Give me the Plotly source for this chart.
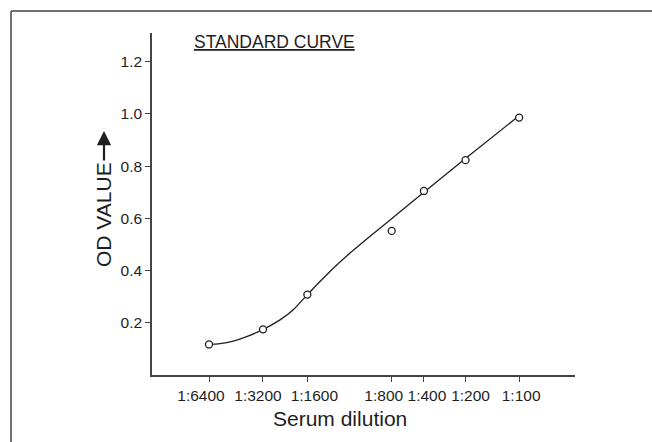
import plotly.graph_objects as go

# Data
dilution_labels = ["1:6400", "1:3200", "1:1600", "1:800", "1:400", "1:200", "1:100"]
dilution_pos = [1.0, 1.947, 2.725, 4.205, 4.77, 5.50, 6.44]
od_measured = [0.117, 0.175, 0.308, 0.552, 0.705, 0.823, 0.986]
# fitted standard curve
curve_x = [0.988, 1.193, 1.426, 1.661, 1.953, 2.246, 2.479, 2.714, 2.947, 3.181,
           3.474, 3.767, 4.058, 4.351, 4.77, 5.46, 6.40]
curve_y = [0.117, 0.120, 0.130, 0.147, 0.175, 0.211, 0.250, 0.305, 0.358, 0.409,
           0.467, 0.521, 0.573, 0.625, 0.700, 0.823, 0.986]
y_ticks = [0.2, 0.4, 0.6, 0.8, 1.0, 1.2]
y_tick_labels = ["0.2", "0.4", "0.6", "0.8", "1.0", "1.2"]

W, H = 652, 442
L, R, T, B = 152, 77, 33, 67
pw, ph = W - L - R, H - T - B
X_RANGE = [0, 7.42]
px_per_unit = pw / (X_RANGE[1] - X_RANGE[0])

# horizontal pixel shifts of the dilution labels relative to their ticks
label_shift_px = [-8, -5, 7, -8, 3, 5, 2]
label_x = [p + s / px_per_unit for p, s in zip(dilution_pos, label_shift_px)]

def px_x(p):
    return (p - L) / pw

def px_y(p):
    return (H - B - p) / ph

font = "Liberation Sans, Arial, sans-serif"
ink = "#1e1e1e"
axis_col = "#444444"

fig = go.Figure()
fig.add_trace(go.Scatter(
    x=curve_x, y=curve_y, mode="lines",
    line=dict(color=ink, width=1.3, shape="spline", smoothing=0.8),
    hoverinfo="skip", showlegend=False))
fig.add_trace(go.Scatter(
    x=dilution_pos, y=od_measured, mode="markers",
    marker=dict(symbol="circle", size=7, color="white",
                line=dict(color=ink, width=1.3)),
    showlegend=False))

fig.update_layout(
    width=W, height=H,
    margin=dict(l=L, r=R, t=T, b=B, autoexpand=False),
    paper_bgcolor="white", plot_bgcolor="white",
    font=dict(family=font, color=ink),
    xaxis=dict(range=X_RANGE, tickvals=dilution_pos, ticktext=[""] * len(dilution_pos),
               tickangle=0, automargin=False,
               showgrid=False, zeroline=False, showline=True, linecolor=axis_col,
               linewidth=1.5, ticks="outside", ticklen=5, tickcolor=axis_col,
               tickwidth=1.2),
    xaxis2=dict(range=X_RANGE, overlaying="x", side="bottom", anchor="y",
                tickvals=label_x, ticktext=dilution_labels, tickangle=0, automargin=False,
                showgrid=False, zeroline=False, showline=False, ticks="",
                ticklabelstandoff=9,
                tickfont=dict(size=15.5, color=ink, family=font)),
    yaxis=dict(range=[0, 1.31], tickvals=y_ticks, ticktext=y_tick_labels,
               automargin=False,
               showgrid=False, zeroline=False, showline=True, linecolor=axis_col,
               linewidth=1.5, ticks="outside", ticklen=5, tickcolor=axis_col,
               tickwidth=1.2, tickfont=dict(size=15.5, color=ink, family=font)),
)
# invisible trace to activate the label axis
fig.add_trace(go.Scatter(x=[X_RANGE[0]], y=[0], xaxis="x2", yaxis="y", mode="markers",
                         marker=dict(opacity=0), hoverinfo="skip", showlegend=False))

annotations = [
    dict(text="<u>STANDARD CURVE</u>", x=px_x(274), y=px_y(42), xref="paper", yref="paper",
         showarrow=False, font=dict(size=17.5, color=ink, family=font), xanchor="center", yanchor="middle"),
    dict(text="Serum dilution", x=px_x(340), y=px_y(418), xref="paper", yref="paper",
         showarrow=False, font=dict(size=21, color=ink, family=font), xanchor="center", yanchor="middle"),
    dict(text="OD VALUE", x=px_x(103), y=px_y(215), xref="paper", yref="paper", textangle=-90,
         showarrow=False, font=dict(size=21, color=ink, family=font), xanchor="center", yanchor="middle"),
    dict(text="", x=px_x(104), y=px_y(131), xref="paper", yref="paper",
         ax=0, ay=31, axref="pixel", ayref="pixel", showarrow=True, arrowhead=2, arrowsize=1.3,
         arrowwidth=2.2, arrowcolor=ink, standoff=0, startstandoff=0),
]
fig.update_layout(annotations=annotations)

fig.add_shape(type="line", xref="paper", yref="paper", x0=px_x(11), y0=px_y(11), x1=px_x(652), y1=px_y(11),
              line=dict(color="#707070", width=2))
fig.add_shape(type="line", xref="paper", yref="paper", x0=px_x(11), y0=px_y(11), x1=px_x(11), y1=px_y(442),
              line=dict(color="#707070", width=2))

fig.write_html("out.html", config={"displayModeBar": False},
               post_script="document.body.style.margin='0';")
